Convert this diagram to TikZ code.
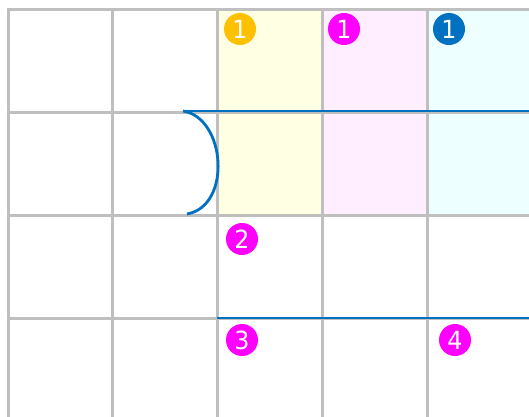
\documentclass[tikz,border=0pt]{standalone}
\usepackage{fontspec}
\setmainfont{DejaVu Sans}
\definecolor{gridgray}{HTML}{BFBFBF}
\definecolor{lineblue}{HTML}{0070C0}
\definecolor{badgeyellow}{HTML}{FFC000}
\definecolor{badgemag}{HTML}{FF00FF}
\definecolor{fillyellow}{HTML}{FFFFE3}
\definecolor{fillpink}{HTML}{FFEEFF}
\definecolor{fillcyan}{HTML}{EEFFFF}
\tikzset{
  gridline/.style={draw=gridgray, line width=3pt},
  blueline/.style={draw=lineblue, line width=2.8pt},
  badge/.style={circle, inner sep=0pt, minimum size=32pt, text=white, font=\fontsize{25}{25}\selectfont\addfontfeature{FakeStretch=0.95}},
}
\begin{document}
\begin{tikzpicture}[x=1pt,y=-1pt]
\useasboundingbox (0,0) rectangle (529,416);
% column fills
\fill[fillyellow] (217,9) rectangle (322,215);
\fill[fillpink] (322,9) rectangle (427,215);
\fill[fillcyan] (427,9) rectangle (529,215);
% grid
\foreach \x in {8,112,217,322,427} \draw[gridline] (\x,9) -- (\x,418);
\foreach \y in {9,112,215,318} \draw[gridline] (6.5,\y) -- (531,\y);
% blue lines
\coordinate (ctop) at (183,111);
\coordinate (cbot) at (187,214);
\coordinate (rtop) at (531,111);
\coordinate (lbot) at (217,318);
\coordinate (rbot) at (531,318);
\draw[blueline] (ctop) -- (rtop);
\draw[blueline] (ctop) .. controls (226,118) and (232,206) .. (cbot);
\draw[blueline] (lbot) -- (rbot);
% badges
\node[badge, fill=badgeyellow] (b1y) at (240,29) {1};
\node[badge, fill=badgemag] (b1m) at (344,29) {1};
\node[badge, fill=lineblue] (b1b) at (449,29) {1};
\node[badge, fill=badgemag] (b2) at (242,239) {2};
\node[badge, fill=badgemag] (b3) at (242,340) {3};
\node[badge, fill=badgemag] (b4) at (455,340) {4};
\end{tikzpicture}
\end{document}
